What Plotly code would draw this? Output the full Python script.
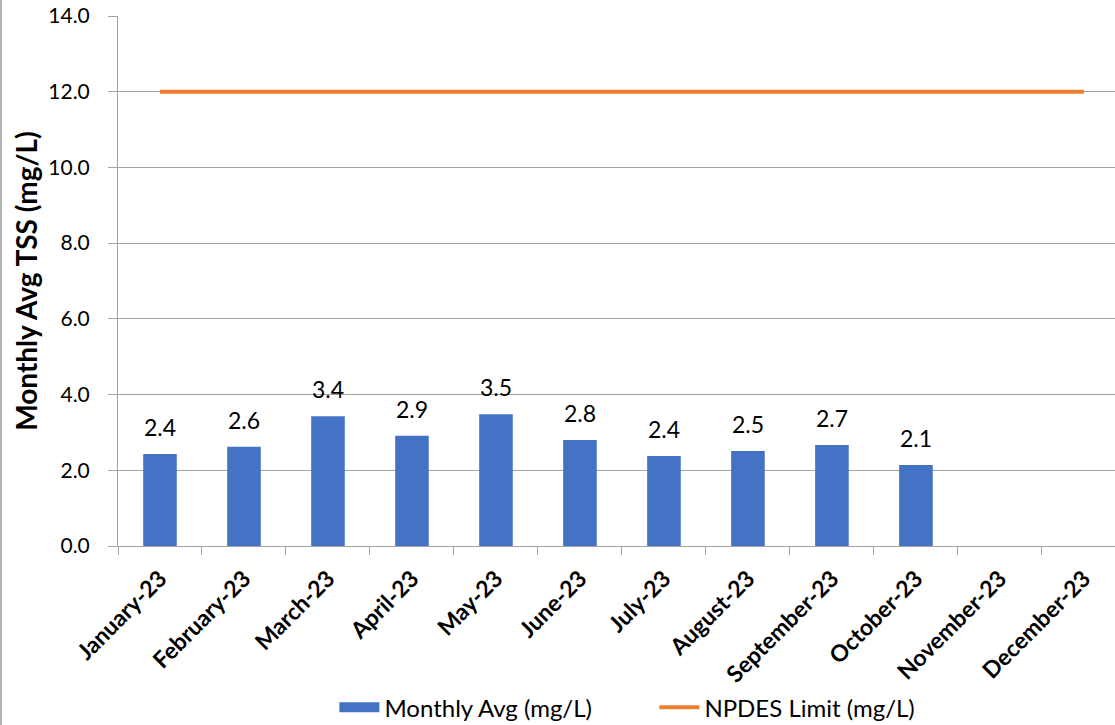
import plotly.graph_objects as go

# Monthly average TSS, 2023 (November/December not yet reported)
months = ["January-23", "February-23", "March-23", "April-23", "May-23", "June-23",
          "July-23", "August-23", "September-23", "October-23", "November-23", "December-23"]
monthly_avg = [2.43, 2.62, 3.43, 2.91, 3.48, 2.80, 2.38, 2.51, 2.67, 2.14]
npdes_limit = [12.0, 12.0, 12.0, 12.0, 12.0, 12.0, 12.0, 12.0, 12.0, 12.0, 12.0, 12.0]
y_ticks = [0, 2, 4, 6, 8, 10, 12, 14]

FONT = "Lato"
BAR_COLOR = "#4472C4"
LINE_COLOR = "#ED7D31"
GRID = "#A3A3A3"

fig = go.Figure()

fig.add_trace(go.Bar(
    x=months[:len(monthly_avg)], y=monthly_avg,
    name="Monthly Avg (mg/L)",
    marker=dict(color=BAR_COLOR, line=dict(width=0)),
    width=0.4, showlegend=False,
))

# legend entry for the bars, drawn as a wide filled swatch
fig.add_trace(go.Scatter(
    x=[None], y=[None], mode="lines",
    name="Monthly Avg (mg/L)",
    line=dict(color=BAR_COLOR, width=17),
))

fig.add_trace(go.Scatter(
    x=months, y=npdes_limit, mode="lines",
    name="NPDES Limit (mg/L)",
    line=dict(color=LINE_COLOR, width=4),
))

# value labels above each bar
fig.add_trace(go.Scatter(
    x=months[:len(monthly_avg)], y=monthly_avg,
    mode="markers+text",
    text=[f"{v:.1f}" for v in monthly_avg],
    textposition="top center",
    textfont=dict(family=FONT, size=23, color="#000000"),
    marker=dict(size=18, opacity=0),
    showlegend=False, hoverinfo="skip",
))

fig.update_layout(
    width=1115, height=725,
    margin=dict(l=118, r=0, t=16, b=179, autoexpand=False),
    paper_bgcolor="white", plot_bgcolor="white",
    font=dict(family=FONT, color="#000000"),
    showlegend=True,
    legend=dict(
        orientation="h", x=0.538, xanchor="center", y=-0.305, yanchor="middle",
        font=dict(family=FONT, size=24, color="#000000"),
        itemwidth=40, entrywidth=265, traceorder="normal",
    ),
    xaxis=dict(
        type="category", categoryorder="array", categoryarray=months,
        range=[-0.5, 11.37], automargin=False,
        tickangle=-45,
        tickfont=dict(family=FONT, size=23, color="#000000", weight="bold"),
        ticks="outside", ticklen=8, tickcolor=GRID, tickson="boundaries",
        ticklabelstandoff=9,
        showline=True, linecolor=GRID, linewidth=1,
        showgrid=False, zeroline=False,
    ),
    yaxis=dict(
        range=[0, 14], tickvals=y_ticks, tickformat=".1f", automargin=False,
        tickfont=dict(family=FONT, size=21, color="#000000"),
        ticks="outside", ticklen=9, tickcolor=GRID, ticklabelstandoff=14,
        showline=True, linecolor=GRID, linewidth=1,
        showgrid=True, gridcolor=GRID, gridwidth=1,
        zeroline=False,
        title=dict(text="Monthly Avg TSS (mg/L)",
                   font=dict(family=FONT, size=28, color="#000000", weight="bold"),
                   standoff=2),
    ),
    shapes=[dict(type="line", xref="paper", yref="paper",
                 x0=-117 / 997, x1=-117 / 997, y0=-179 / 530, y1=1 + 16 / 530,
                 line=dict(color="#B3B3B3", width=2))],
)

fig.write_html("out.html")
